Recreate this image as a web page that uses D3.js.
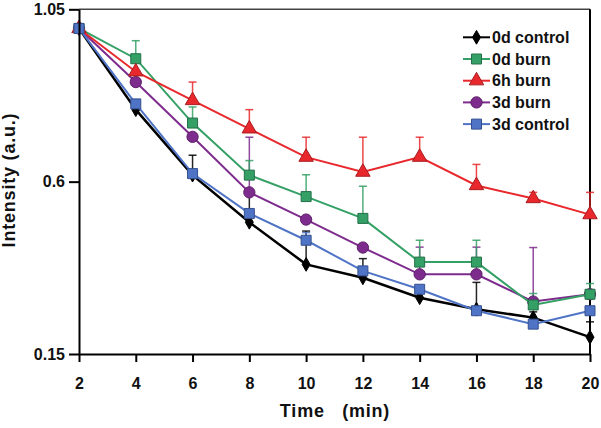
<!DOCTYPE html>
<html>
<head>
<meta charset="utf-8">
<script src="https://cdn.jsdelivr.net/npm/d3@7"></script>
<style>
  html, body { margin: 0; padding: 0; background: #fff; }
  svg { display: block; font-family: "Liberation Sans", Arial, sans-serif; }
</style>
</head>
<body>
<svg id="chart" width="601" height="428"></svg>
<script>
// ---- data ----
const times = [2, 4, 6, 8, 10, 12, 14, 16, 18, 20];
const seriesNames = ["0d control", "0d burn", "6h burn", "3d burn", "3d control"];
const control0d = [1.0, 0.788, 0.617, 0.494, 0.384, 0.349, 0.297, 0.267, 0.245, 0.194];
const burn0d    = [1.0, 0.921, 0.753, 0.617, 0.561, 0.504, 0.390, 0.390, 0.278, 0.306];
const burn6h    = [1.0, 0.887, 0.812, 0.738, 0.664, 0.625, 0.664, 0.590, 0.556, 0.514];
const burn3d    = [1.0, 0.860, 0.717, 0.572, 0.501, 0.428, 0.358, 0.358, 0.287, 0.306];
const control3d = [1.0, 0.803, 0.621, 0.517, 0.447, 0.367, 0.319, 0.263, 0.228, 0.263];
// upper error bars
const control0dErr = [0, 0, 0.052, 0.08, 0.087, 0.05, 0.015, 0.07, 0.015, 0.04];
const burn0dErr    = [0, 0.047, 0.042, 0.038, 0.057, 0.084, 0.057, 0.057, 0.03, 0.028];
const burn6hErr    = [0, 0, 0.048, 0.05, 0.052, 0.091, 0.052, 0.055, 0.016, 0.058];
const burn3dErr    = [0, 0, 0, 0.144, 0, 0, 0.071, 0.071, 0.141, 0];
const control3dErr = [0, 0, 0, 0, 0.02, 0, 0, 0, 0, 0];
const yTickValues = [0.15, 0.6, 1.05];
const yTickLabels = ["0.15", "0.6", "1.05"];
const xTickValues = [2, 4, 6, 8, 10, 12, 14, 16, 18, 20];

// ---- setup ----
const series = [
  { name: seriesNames[0], values: control0d, err: control0dErr, color: "#000000", edge: "#000000", shape: "diamond" },
  { name: seriesNames[1], values: burn0d, err: burn0dErr, color: "#34a065", edge: "#24704a", shape: "square" },
  { name: seriesNames[2], values: burn6h, err: burn6hErr, color: "#e8282c", edge: "#a81c20", shape: "triangle" },
  { name: seriesNames[3], values: burn3d, err: burn3dErr, color: "#7e2b8e", edge: "#5a1d66", shape: "circle" },
  { name: seriesNames[4], values: control3d, err: control3dErr, color: "#4f74c6", edge: "#34508f", shape: "square" }
];
const drawOrder = [0, 3, 1, 2, 4];

const svg = d3.select("#chart");
const pLeft = 79, pRight = 590, pTop = 9.3, pBottom = 354;
const x = d3.scaleLinear().domain([2, 20]).range([pLeft, pRight]);
const y = d3.scaleLinear().domain([0.15, 1.05]).range([pBottom, pTop]);

const symbolType = {
  diamond: d3.symbolDiamond, square: d3.symbolSquare,
  triangle: d3.symbolTriangle, circle: d3.symbolCircle
};
const symbolSize = { diamond: 55, square: 100, triangle: 90, circle: 100 };

// frame
svg.append("line").attr("x1", pLeft).attr("x2", pRight).attr("y1", pTop).attr("y2", pTop)
  .attr("stroke", "#444").attr("stroke-width", 1.5);
svg.append("line").attr("x1", pRight).attr("x2", pRight).attr("y1", pTop).attr("y2", pBottom)
  .attr("stroke", "#000").attr("stroke-width", 2);

// error bars
const errG = svg.append("g");
drawOrder.forEach(si => {
  const s = series[si];
  times.forEach((t, i) => {
    if (!s.err[i]) return;
    const cx = x(t), y0 = y(s.values[i]), y1 = y(s.values[i] + s.err[i]);
    errG.append("line").attr("x1", cx).attr("x2", cx).attr("y1", y0).attr("y2", y1)
      .attr("stroke", s.color).attr("stroke-width", 1.5).attr("opacity", 0.85);
    errG.append("line").attr("x1", cx - 4).attr("x2", cx + 4).attr("y1", y1).attr("y2", y1)
      .attr("stroke", s.color).attr("stroke-width", 1.5).attr("opacity", 0.85);
  });
});

// lines and markers
const lineGen = d3.line().x((d, i) => x(times[i])).y(d => y(d));
drawOrder.forEach(si => {
  const s = series[si];
  const g = svg.append("g");
  g.append("path").datum(s.values).attr("d", lineGen)
    .attr("fill", "none").attr("stroke", s.color).attr("stroke-width", si === 0 ? 2.5 : 2);
  g.selectAll("path.m").data(s.values).enter().append("path").attr("class", "m")
    .attr("d", d3.symbol().type(symbolType[s.shape]).size(symbolSize[s.shape]))
    .attr("transform", (d, i) => `translate(${x(times[i])},${y(d)})`)
    .attr("fill", s.color).attr("stroke", s.edge).attr("stroke-width", 1);
});

// axes
const yAxis = d3.axisLeft(y).tickValues(yTickValues).tickSizeInner(10).tickSizeOuter(0)
  .tickPadding(4).tickFormat((d, i) => yTickLabels[i]);
const gy = svg.append("g").attr("transform", `translate(${pLeft},0)`).call(yAxis);
const xAxis = d3.axisBottom(x).tickValues(xTickValues).tickSizeInner(8).tickSizeOuter(0)
  .tickPadding(16).tickFormat(d3.format("d"));
const gx = svg.append("g").attr("transform", `translate(0,${pBottom})`).call(xAxis);
[gx, gy].forEach(g => {
  g.select(".domain").attr("stroke", "#000").attr("stroke-width", 2);
  g.selectAll(".tick line").attr("stroke", "#000").attr("stroke-width", 2);
  g.selectAll(".tick text").attr("fill", "#111").attr("font-size", 16).attr("font-weight", "bold")
    .attr("font-family", "Liberation Sans, Arial, sans-serif");
});

// axis titles
svg.append("text").attr("x", 335).attr("y", 417).attr("text-anchor", "middle")
  .attr("font-size", 18).attr("font-weight", "bold").attr("letter-spacing", 0.8)
  .attr("fill", "#111").style("white-space", "pre").text("Time   (min)");
svg.append("text").attr("transform", "translate(15,180) rotate(-90)").attr("text-anchor", "middle")
  .attr("font-size", 18).attr("font-weight", "bold").attr("letter-spacing", 0.8)
  .attr("fill", "#111").text("Intensity (a.u.)");

// legend
const lg = svg.append("g");
series.forEach((s, i) => {
  const ly = 37.3 + i * 21.7;
  lg.append("line").attr("x1", 463).attr("x2", 490).attr("y1", ly).attr("y2", ly)
    .attr("stroke", s.color).attr("stroke-width", 2);
  lg.append("path")
    .attr("d", d3.symbol().type(symbolType[s.shape]).size(symbolSize[s.shape]))
    .attr("transform", `translate(476.5,${ly})`)
    .attr("fill", s.color).attr("stroke", s.edge).attr("stroke-width", 1);
  lg.append("text").attr("x", 492).attr("y", ly).attr("dy", "0.36em")
    .attr("font-size", 16).attr("font-weight", "bold").attr("fill", "#111").text(s.name);
});
</script>
</body>
</html>
